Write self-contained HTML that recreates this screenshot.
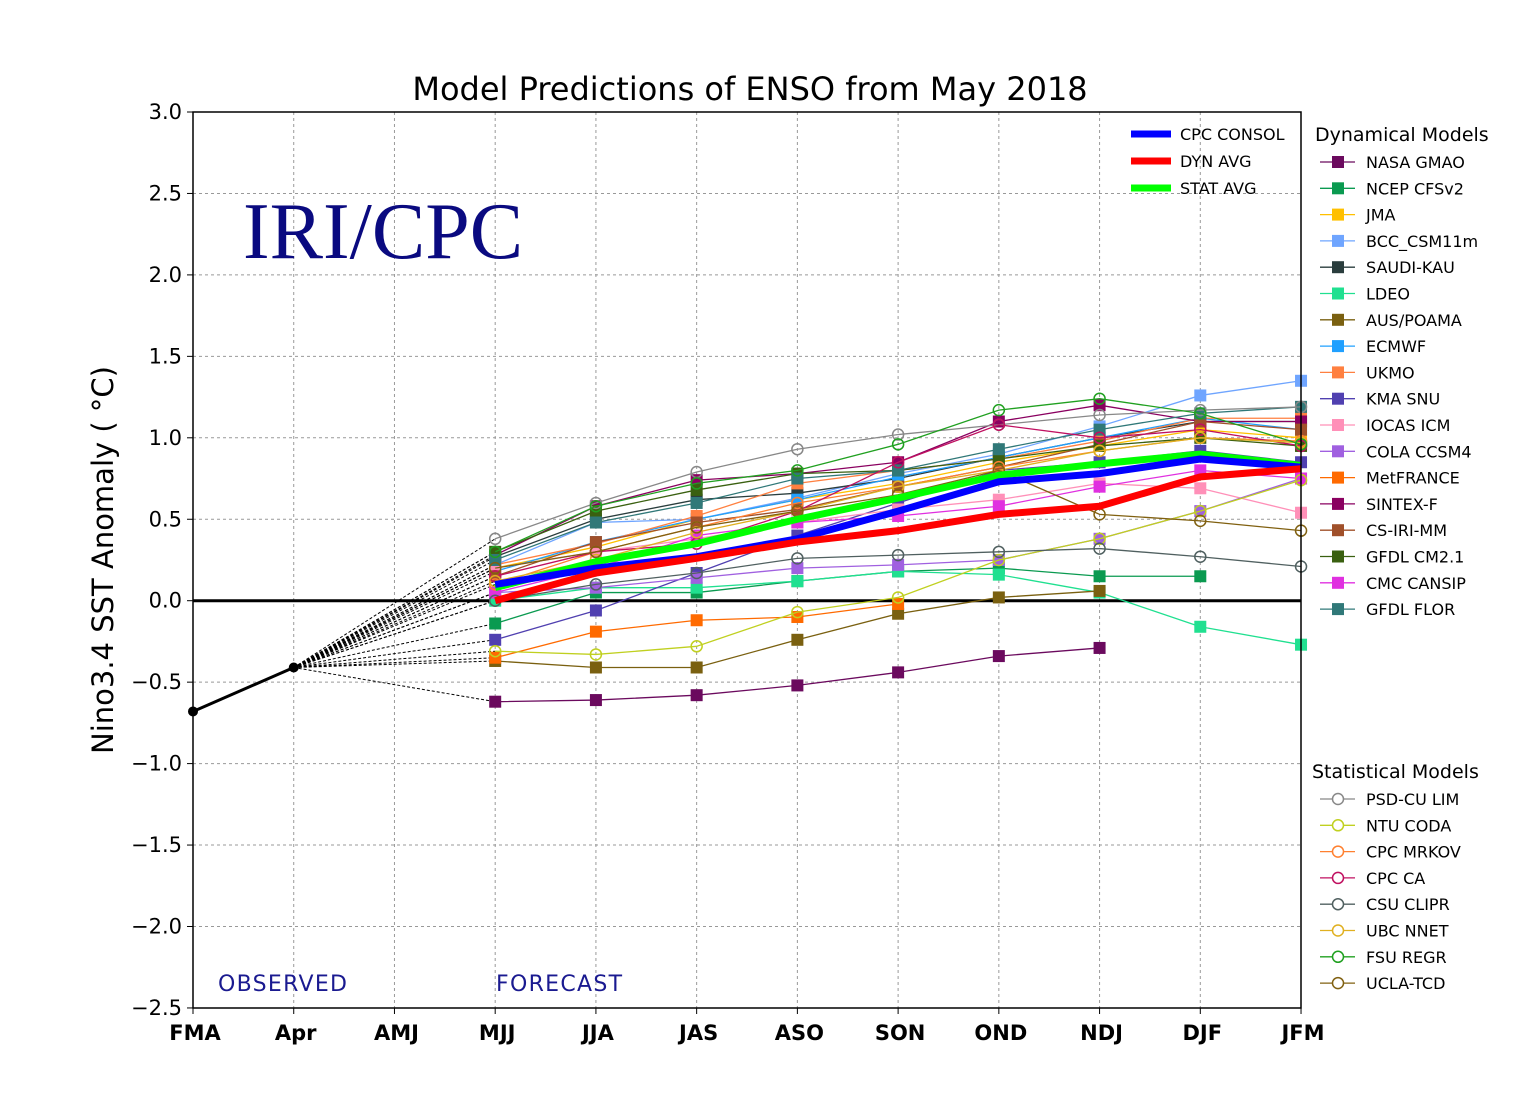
<!DOCTYPE html>
<html><head><meta charset="utf-8"><style>
body{margin:0;background:#fff;}
svg{display:block;font-family:"DejaVu Sans","Liberation Sans",sans-serif;}
</style></head><body>
<svg id="s" width="1540" height="1120" xmlns="http://www.w3.org/2000/svg">
<rect width="1540" height="1120" fill="#fff"/>
<g id="grid"></g>
<g id="series"></g>
<rect x="193" y="112" width="1108" height="896" fill="none" stroke="#000" stroke-width="1.5"/>
<text x="750" y="100" font-size="32" text-anchor="middle">Model Predictions of ENSO from May 2018</text>
<text transform="translate(113,560) rotate(-90)" font-size="29" text-anchor="middle">Nino3.4 SST Anomaly ( °C)</text>
<text x="243" y="258" font-family="Liberation Serif,serif" font-size="80" fill="#0a0a80">IRI/CPC</text>
<text x="218" y="991" font-size="22" fill="#1a1a90" letter-spacing="1.3">OBSERVED</text>
<text x="496" y="991" font-size="22" fill="#1a1a90" letter-spacing="1.3">FORECAST</text>
<g id="leg"></g>
</svg>
<script>
const NS="http://www.w3.org/2000/svg";
function el(p,t,a,txt){const e=document.createElementNS(NS,t);for(const k in a)e.setAttribute(k,a[k]);if(txt!==undefined)e.textContent=txt;document.getElementById(p).appendChild(e);return e;}
const X=i=>193+i*100.73, Y=v=>112+(3-v)*162.9;
const xl=["FMA","Apr","AMJ","MJJ","JJA","JAS","ASO","SON","OND","NDJ","DJF","JFM"];
xl.forEach((l,i)=>{if(i>0&&i<11)el("grid","line",{x1:X(i),x2:X(i),y1:112,y2:1008,stroke:"#999","stroke-dasharray":"3,3","stroke-width":1});
 el("grid","text",{x:X(i)+2,y:1040,"font-size":21,"text-anchor":"middle","font-weight":"bold"},l);
 el("grid","line",{x1:X(i),x2:X(i),y1:1008,y2:1014,stroke:"#000"});});
for(let v=3;v>=-2.51;v-=0.5){const y=Y(v);if(v<2.9&&v>-2.4&&Math.abs(v)>0.01)el("grid","line",{x1:193,x2:1301,y1:y,y2:y,stroke:"#999","stroke-dasharray":"3,3"});
 el("grid","line",{x1:187,x2:193,y1:y,y2:y,stroke:"#000"});
 el("grid","text",{x:182,y:y+7,"font-size":21,"text-anchor":"end"},(v<0?"\u2212":"")+Math.abs(v).toFixed(1));}
el("grid","line",{x1:193,x2:1301,y1:Y(0),y2:Y(0),stroke:"#000","stroke-width":3});
const dyn=[
["NASA GMAO","#6b0a5e",[-0.62,-0.61,-0.58,-0.52,-0.44,-0.34,-0.29]],
["NCEP CFSv2","#0a9a50",[-0.14,0.05,0.05,0.12,0.18,0.2,0.15,0.15]],
["JMA","#ffc000",[0.2,0.33,0.5,0.62,0.72,0.85,0.95,1.05,1.0]],
["BCC_CSM11m","#6fa5ff",[0.22,0.48,0.5,0.63,0.78,0.9,1.07,1.26,1.35]],
["SAUDI-KAU","#2a3d3d",[0.27,0.5,0.62,0.66,0.75,0.88,1.0,1.1,1.1]],
["LDEO","#20e090",[0.0,0.08,0.08,0.12,0.18,0.16,0.05,-0.16,-0.27]],
["AUS/POAMA","#7a6010",[-0.37,-0.41,-0.41,-0.24,-0.08,0.02,0.06]],
["ECMWF","#20a0ff",[0.18,0.36,0.5,0.62,0.76,0.88,1.0,1.12,1.05]],
["UKMO","#ff8040",[0.22,0.35,0.52,0.72,0.8,0.87,0.98,1.12,1.12]],
["KMA SNU","#5040b0",[-0.24,-0.06,0.17,0.4,0.6,0.8,0.85,0.92,0.85]],
["IOCAS ICM","#ff90b8",[0.2,0.3,0.38,0.48,0.56,0.62,0.72,0.69,0.54]],
["COLA CCSM4","#a060e0",[0.05,0.08,0.14,0.2,0.22,0.25,0.38,0.55,0.75]],
["MetFRANCE","#ff6a00",[-0.35,-0.19,-0.12,-0.1,-0.02]],
["SINTEX-F","#8a0060",[0.28,0.58,0.74,0.78,0.85,1.1,1.2,1.1,1.1]],
["CS-IRI-MM","#a0502a",[0.15,0.36,0.48,0.56,0.7,0.82,0.96,1.1,1.05]],
["GFDL CM2.1","#3a6010",[0.3,0.55,0.68,0.78,0.8,0.87,0.95,1.0,0.95]],
["CMC CANSIP","#e030e0",[0.05,0.2,0.4,0.48,0.52,0.58,0.7,0.8,0.75]],
["GFDL FLOR","#307878",[0.25,0.48,0.6,0.75,0.8,0.93,1.05,1.15,1.19]]];
const stat=[
["PSD-CU LIM","#888",[0.38,0.6,0.79,0.93,1.02,1.08,1.14,1.17,1.19]],
["NTU CODA","#c0d020",[-0.31,-0.33,-0.28,-0.07,0.02,0.25,0.38,0.55,0.74]],
["CPC MRKOV","#ff8030",[0.1,0.3,0.45,0.6,0.7,0.82,0.92,1.0,0.98]],
["CPC CA","#c01060",[0.15,0.3,0.35,0.55,0.85,1.08,1.0,1.05,0.95]],
["CSU CLIPR","#506060",[0.0,0.1,0.17,0.26,0.28,0.3,0.32,0.27,0.21]],
["UBC NNET","#e0b020",[0.12,0.25,0.42,0.55,0.7,0.8,0.92,1.0,0.97]],
["FSU REGR","#20a020",[0.3,0.58,0.72,0.8,0.96,1.17,1.24,1.15,0.96]],
["UCLA-TCD","#806010",[0.2,0.3,0.45,0.55,0.65,0.8,0.53,0.49,0.43]]];
[...dyn,...stat].forEach(s=>el("series","line",{x1:X(1),y1:Y(-0.41),x2:X(3),y2:Y(s[2][0]),stroke:"#000","stroke-width":1,"stroke-dasharray":"3,2"}));
function pts(d){return d.map((v,i)=>X(i+3)+","+Y(v)).join(" ");}
dyn.forEach(s=>{el("series","polyline",{points:pts(s[2]),fill:"none",stroke:s[1],"stroke-width":1.3});
 s[2].forEach((v,i)=>el("series","rect",{x:X(i+3)-6,y:Y(v)-6,width:12,height:12,fill:s[1]}));});
stat.forEach(s=>{el("series","polyline",{points:pts(s[2]),fill:"none",stroke:s[1],"stroke-width":1.3});
 s[2].forEach((v,i)=>el("series","circle",{cx:X(i+3),cy:Y(v),r:5.5,fill:"none",stroke:s[1],"stroke-width":1.5}));});
[["#00ff00",[0.08,0.24,0.35,0.5,0.63,0.77,0.84,0.9,0.83]],["#0000ff",[0.1,0.2,0.27,0.38,0.55,0.73,0.78,0.87,0.82]],["#ff0000",[0.0,0.17,0.26,0.36,0.43,0.53,0.58,0.76,0.81]]]
 .forEach(s=>el("series","polyline",{points:pts(s[1]),fill:"none",stroke:s[0],"stroke-width":7,"stroke-linejoin":"round"}));
el("series","polyline",{points:X(0)+","+Y(-0.68)+" "+X(1)+","+Y(-0.41),stroke:"#000","stroke-width":3,fill:"none"});
el("series","circle",{cx:X(0),cy:Y(-0.68),r:5,fill:"#000"});el("series","circle",{cx:X(1),cy:Y(-0.41),r:5,fill:"#000"});
[["CPC CONSOL","#0000ff"],["DYN AVG","#ff0000"],["STAT AVG","#00ff00"]].forEach((l,i)=>{const y=134+i*27;
 el("leg","line",{x1:1131,x2:1171,y1:y,y2:y,stroke:l[1],"stroke-width":7});
 el("leg","text",{x:1180,y:y+6,"font-size":16},l[0]);});
el("leg","text",{x:1315,y:141,"font-size":19},"Dynamical Models");
dyn.forEach((s,i)=>{const y=162+i*26.3;
 el("leg","line",{x1:1320,x2:1355,y1:y,y2:y,stroke:s[1],"stroke-width":1.3});
 el("leg","rect",{x:1332,y:y-6,width:12,height:12,fill:s[1]});
 el("leg","text",{x:1366,y:y+6,"font-size":16},s[0]);});
el("leg","text",{x:1312,y:778,"font-size":19},"Statistical Models");
stat.forEach((s,i)=>{const y=799+i*26.3;
 el("leg","line",{x1:1320,x2:1355,y1:y,y2:y,stroke:s[1],"stroke-width":1.3});
 el("leg","circle",{cx:1338,cy:y,r:5.5,fill:"#fff",stroke:s[1],"stroke-width":1.5});
 el("leg","text",{x:1366,y:y+6,"font-size":16},s[0]);});
</script>
</body></html>
